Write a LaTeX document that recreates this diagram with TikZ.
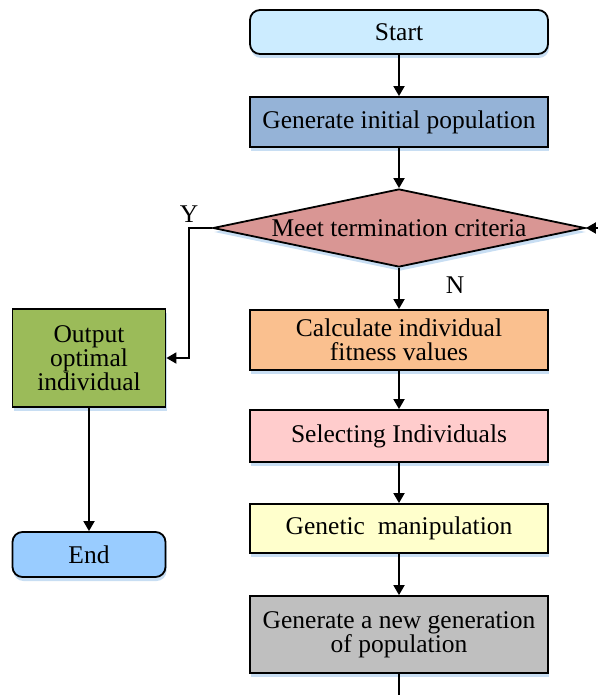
\documentclass[tikz,border=0pt]{standalone}
\usepackage{fontspec}
\setmainfont{Liberation Serif}
\usetikzlibrary{shapes.geometric,arrows.meta,shadows}
\definecolor{shadowc}{RGB}{200,222,243}
\definecolor{cstart}{RGB}{204,236,255}
\definecolor{cinit}{RGB}{149,179,215}
\definecolor{cdiam}{RGB}{217,150,148}
\definecolor{ccalc}{RGB}{250,192,143}
\definecolor{cout}{RGB}{155,187,89}
\definecolor{csel}{RGB}{255,204,204}
\definecolor{cgen}{RGB}{255,255,204}
\definecolor{cnew}{RGB}{191,191,191}
\definecolor{cend}{RGB}{153,204,255}
\tikzset{
  base/.style={draw=black, line width=1.8pt, align=center, inner sep=0pt,
    font=\fontsize{25.5}{24}\selectfont,
    drop shadow={shadow xshift=1pt, shadow yshift=-4pt, fill=shadowc, opacity=1}},
  procbox/.style={base, rectangle, minimum width=298pt},
  termbox/.style={base, rectangle, rounded corners=10pt},
  decbox/.style={base, diamond, aspect=4.77, minimum width=372pt, minimum height=78pt},
  conn/.style={line width=1.8pt, -{Triangle[length=10pt,width=11pt]}},
  plainconn/.style={line width=1.8pt},
  lbl/.style={font=\fontsize{25.5}{24}\selectfont, inner sep=0pt}
}
\begin{document}
\begin{tikzpicture}[x=1pt,y=-1pt]
\useasboundingbox (0,0) rectangle (597,695);
\node[termbox, fill=cstart, minimum width=298pt, minimum height=44pt] (start) at (399,32) {Start};
\node[procbox, fill=cinit, minimum height=50pt] (init) at (399,122) {Generate initial population};
\node[decbox, fill=cdiam] (dec) at (399,228) {Meet termination criteria};
\node[procbox, fill=ccalc, minimum height=60pt] (calc) at (399,340) {Calculate individual\\fitness values};
\node[procbox, fill=csel, minimum height=52pt] (sel) at (399,436) {Selecting Individuals};
\node[procbox, fill=cgen, minimum height=49pt] (gen) at (399,528.5) {Genetic\ \ manipulation};
\node[procbox, fill=cnew, minimum height=77pt] (new) at (399,634.5) {Generate a new generation\\of population};
\node[base, rectangle, fill=cout, minimum width=153pt, minimum height=98pt] (out) at (89,358) {Output\\optimal\\individual};
\node[termbox, fill=cend, minimum width=153pt, minimum height=45pt] (end) at (89,554.5) {End};
\coordinate (ycorner) at (189,228);
\coordinate (bottom) at (399,697);
\coordinate (rightin) at (599,228);
\node[lbl] (ylab) at (189,214) {Y};
\node[lbl] (nlab) at (455,285) {N};
\draw[conn] (start) -- (init);
\draw[conn] (init) -- (dec);
\draw[conn] (dec) -- (calc);
\draw[conn] (calc) -- (sel);
\draw[conn] (sel) -- (gen);
\draw[conn] (gen) -- (new);
\draw[plainconn] (new) -- (bottom);
\draw[conn] (dec.west) -- (ycorner) |- (out.east);
\draw[conn] (out) -- (end);
\draw[conn] (rightin) -- (dec.east);
\end{tikzpicture}
\end{document}
